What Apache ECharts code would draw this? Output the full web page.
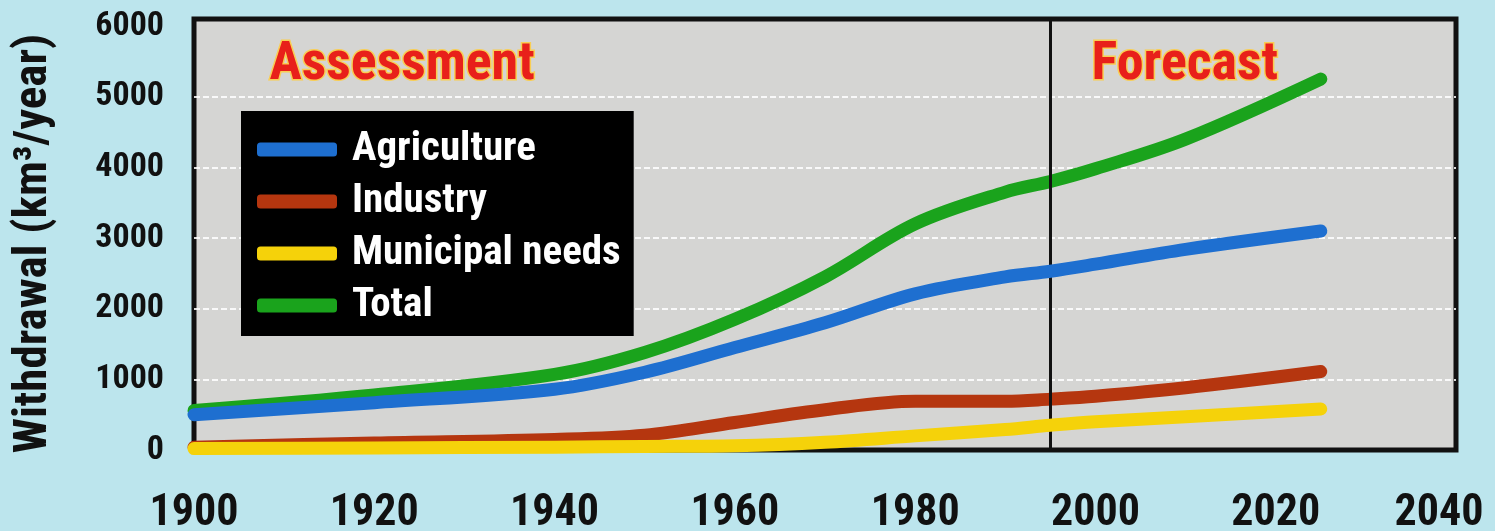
<!DOCTYPE html>
<html>
<head>
<meta charset="utf-8">
<script src="https://cdn.jsdelivr.net/npm/echarts@6/dist/echarts.min.js"></script>
<style>
  html, body { margin: 0; padding: 0; background: #b9e4ec; }
  #chart { width: 1495px; height: 531px; }
</style>
</head>
<body>
<div id="chart"></div>
<script>
// ---- data ----
var years        = [1900, 1920, 1940, 1950, 1960, 1970, 1980, 1990, 1995, 2000, 2010, 2025];
var agriculture  = [ 500,  670,  860, 1100, 1450, 1800, 2210, 2450, 2530, 2630, 2840, 3100];
var industry     = [  40,  100,  150,  210,  390,  570,  690,  690,  720,  760,  880, 1110];
var municipal    = [  20,   30,   40,   50,   60,  110,  200,  290,  350,  400,  470,  580];
var total        = [ 560,  780, 1070, 1380, 1850, 2450, 3200, 3650, 3800, 3980, 4400, 5250];
var seriesNames  = ['Agriculture', 'Industry', 'Municipal needs', 'Total'];
var xTicks       = [1900, 1920, 1940, 1960, 1980, 2000, 2020, 2040];
var yTicks       = [0, 1000, 2000, 3000, 4000, 5000, 6000];
var dividerYear  = 1995;
var periodLabels = ['Assessment', 'Forecast'];
var yTitle       = 'Withdrawal (km\u00B3/year)';

function pairs(vals) { return years.map(function (y, i) { return [y, vals[i]]; }); }

var FONT = '"Roboto Condensed", "Liberation Sans Narrow", "Arial Narrow", "DejaVu Sans Condensed", sans-serif';
var colors = { 'Agriculture': '#1e6fd0', 'Industry': '#b5360f', 'Municipal needs': '#f5d20a', 'Total': '#1aa31c' };
var valuesByName = { 'Agriculture': agriculture, 'Industry': industry, 'Municipal needs': municipal, 'Total': total };
var drawOrder = ['Total', 'Industry', 'Agriculture', 'Municipal needs'];

var chart = echarts.init(document.getElementById('chart'), null, { renderer: 'canvas' });

var series = drawOrder.map(function (name, idx) {
  var s = {
    name: name,
    type: 'line',
    data: pairs(valuesByName[name]),
    smooth: 0.35,
    symbol: 'none',
    z: 3 + idx,
    lineStyle: { width: 13, color: colors[name], cap: 'round', join: 'round' },
    itemStyle: { color: colors[name] }
  };
  if (idx === 0) {
    s.markLine = {
      silent: true,
      symbol: ['none', 'none'],
      label: { show: false },
      lineStyle: { color: '#111', width: 3, type: 'solid' },
      data: [{ xAxis: dividerYear }]
    };
  }
  return s;
});

var periodTextStyle = {
  fontFamily: FONT, fontWeight: 'bold', fontSize: 54,
  fill: '#e8201a', stroke: 'rgba(255,205,60,0.85)', lineWidth: 3
};

var gridWhite = 'rgba(255,255,255,0.85)';
var noLine = 'rgba(0,0,0,0)';
var xLabelFont = { color: '#111', fontFamily: FONT, fontWeight: 'bold', fontSize: 44 };
var lastXTick = xTicks[xTicks.length - 1];

chart.setOption({
  backgroundColor: '#bce5ed',
  animation: false,
  grid: {
    left: 194, right: 39, top: 19, bottom: 81,
    containLabel: false, outerBoundsMode: 'none',
    show: true, backgroundColor: '#d5d5d3', borderColor: '#111', borderWidth: 5
  },
  legend: {
    data: seriesNames,
    orient: 'vertical',
    left: 241, top: 111,
    backgroundColor: '#000',
    padding: [18, 13, 10, 16],
    itemGap: 11,
    itemWidth: 80, itemHeight: 14,
    icon: 'roundRect',
    textStyle: { color: '#fff', fontFamily: FONT, fontWeight: 'bold', fontSize: 41, lineHeight: 40, padding: [0, 0, 0, 10] }
  },
  xAxis: {
    type: 'value', min: 1900, max: 2040, interval: 20,
    axisLine: { show: false },
    axisTick: { show: false },
    splitLine: { show: false },
    axisLabel: Object.assign({
      margin: 42,
      rich: { last: Object.assign({ padding: [0, 34, 0, 0] }, xLabelFont) },
      formatter: function (v) {
        if (xTicks.indexOf(v) < 0) return '';
        return v === lastXTick ? '{last|' + v + '}' : String(v);
      }
    }, xLabelFont)
  },
  yAxis: {
    type: 'value', min: 0, max: 6100, interval: 1000,
    name: yTitle, nameLocation: 'middle', nameGap: 136,
    nameTextStyle: { color: '#111', fontFamily: FONT, fontWeight: 'bold', fontSize: 47, padding: [0, 18, 0, 0] },
    axisLine: { show: false },
    axisTick: { show: false },
    splitLine: { show: true, lineStyle: {
      color: [noLine, gridWhite, gridWhite, gridWhite, gridWhite, gridWhite, noLine, noLine],
      width: 2, type: [6, 3] } },
    axisLabel: {
      margin: 30, color: '#111', fontFamily: FONT, fontWeight: 'bold', fontSize: 34,
      showMaxLabel: false,
      formatter: function (v) { return yTicks.indexOf(v) >= 0 ? String(v) : ''; }
    }
  },
  graphic: [
    { type: 'text', left: 268, top: 37, z: 10, style: Object.assign({ text: periodLabels[0] }, periodTextStyle) },
    { type: 'text', left: 1090, top: 37, z: 10, style: Object.assign({ text: periodLabels[1] }, periodTextStyle) }
  ],
  series: series
});
</script>
</body>
</html>
